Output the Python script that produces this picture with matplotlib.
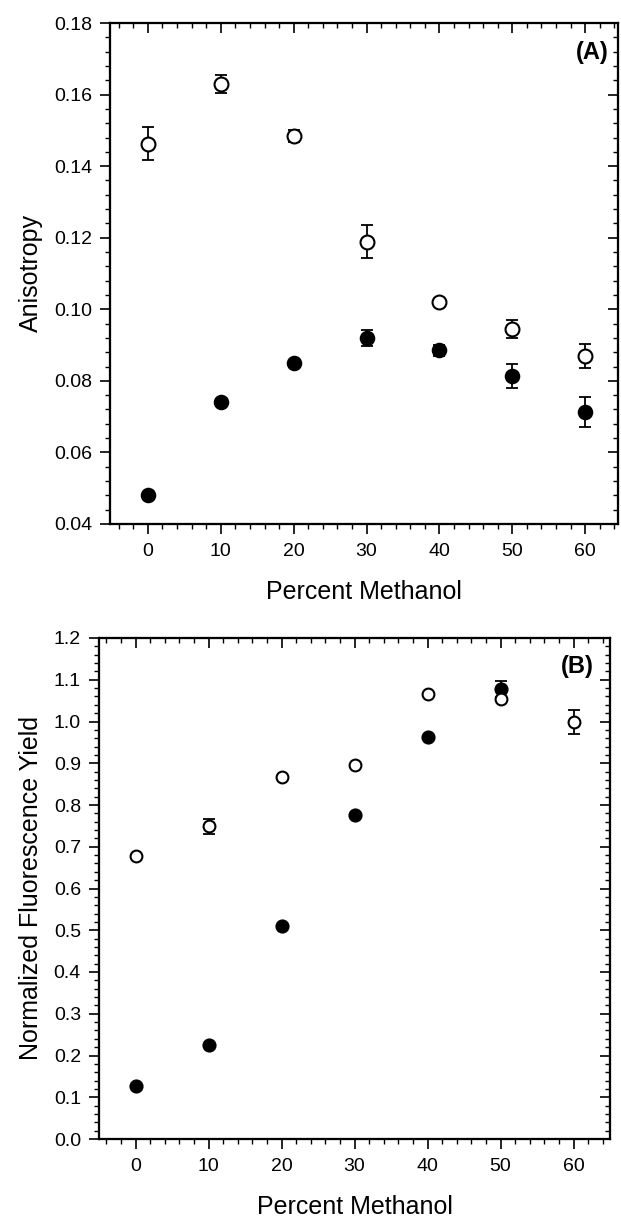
import matplotlib
matplotlib.use("Agg")
import matplotlib.pyplot as plt
from matplotlib.ticker import MultipleLocator, FormatStrFormatter

plt.rcParams['font.family'] = ['Liberation Sans', 'DejaVu Sans']

# ---------------- data ----------------
methanol = [0, 10, 20, 30, 40, 50, 60]

# Panel A: anisotropy
aniso_open = [0.1463, 0.1630, 0.1484, 0.1189, 0.1021, 0.0944, 0.0870]
aniso_open_err = [0.0046, 0.0026, 0.0016, 0.0047, 0.0, 0.0025, 0.0033]
aniso_filled = [0.0480, 0.0742, 0.0850, 0.0920, 0.0885, 0.0814, 0.0713]
aniso_filled_err = [0.0, 0.0, 0.0, 0.0023, 0.0016, 0.0033, 0.0041]

# Panel B: normalized fluorescence yield
yield_open = [0.677, 0.749, 0.866, 0.896, 1.066, 1.054, 0.999]
yield_open_err = [0.0, 0.018, 0.0, 0.0, 0.0, 0.0, 0.029]
yield_filled = [0.128, 0.226, 0.511, 0.776, 0.963, 1.078]
yield_filled_err = [0.0, 0.0, 0.0, 0.0, 0.0, 0.019]
methanol_filled_b = [0, 10, 20, 30, 40, 50]

xlabel = "Percent Methanol"
ylabel_a = "Anisotropy"
ylabel_b = "Normalized Fluorescence Yield"

W, H = 621, 1217
fig = plt.figure(figsize=(W / 100, H / 100), dpi=100)


def frac(l, r, t, b):
    return [l / W, 1 - b / H, (r - l) / W, (b - t) / H]


def style(ax, xlim, ylim, ymaj, ymin, yfmt):
    ax.set_xlim(*xlim)
    ax.set_ylim(*ylim)
    ax.xaxis.set_major_locator(MultipleLocator(10))
    ax.xaxis.set_minor_locator(MultipleLocator(2))
    ax.yaxis.set_major_locator(MultipleLocator(ymaj))
    ax.yaxis.set_minor_locator(MultipleLocator(ymin))
    ax.yaxis.set_major_formatter(FormatStrFormatter(yfmt))
    for s in ax.spines.values():
        s.set_linewidth(1.5)
    ax.tick_params(which='major', direction='out', length=7, width=1.2,
                   labelsize=14, pad=6)
    ax.tick_params(which='minor', direction='out', length=3.5, width=1.0)
    ax.tick_params(axis='x', which='major', pad=7)
    # mirrored inward ticks on top and right
    tx = ax.twiny()
    tx.set_xlim(*xlim)
    tx.xaxis.set_major_locator(MultipleLocator(10))
    tx.xaxis.set_minor_locator(MultipleLocator(2))
    tx.tick_params(which='major', direction='in', length=7, width=1.2, labeltop=False)
    tx.tick_params(which='minor', direction='in', length=3.5, width=1.0)
    ty = ax.twinx()
    ty.set_ylim(*ylim)
    ty.yaxis.set_major_locator(MultipleLocator(ymaj))
    ty.yaxis.set_minor_locator(MultipleLocator(ymin))
    ty.tick_params(which='major', direction='in', length=7, width=1.2, labelright=False)
    ty.tick_params(which='minor', direction='in', length=3.5, width=1.0)
    for a in (tx, ty):
        for s in a.spines.values():
            s.set_linewidth(1.5)


def draw(ax, x, y, err, filled, ms):
    ax.errorbar(x, y, yerr=err, fmt='none', ecolor='black', elinewidth=1.3,
                capsize=4, capthick=1.3, zorder=3)
    if filled:
        ax.plot(x, y, 'o', ms=ms, mfc='black', mec='black', mew=1.2, zorder=4)
    else:
        ax.plot(x, y, 'o', ms=ms, mfc='white', mec='black', mew=1.5, zorder=5)


# ---------------- Panel A ----------------
axA = fig.add_axes(frac(110, 618, 23, 524))
draw(axA, methanol, aniso_filled, aniso_filled_err, True, 10)
draw(axA, methanol, aniso_open, aniso_open_err, False, 10)
style(axA, (-5.2, 64.5), (0.04, 0.18), 0.02, 0.004, '%.2f')
axA.set_xlabel(xlabel, fontsize=18, labelpad=14)
axA.set_ylabel(ylabel_a, fontsize=18, labelpad=8)
axA.text(0.950, 0.941, "(A)", transform=axA.transAxes, fontsize=17,
         fontweight='bold', ha='center', va='center', zorder=10)

# ---------------- Panel B ----------------
axB = fig.add_axes(frac(99, 610, 638, 1139))
draw(axB, methanol_filled_b, yield_filled, yield_filled_err, True, 9)
draw(axB, methanol, yield_open, yield_open_err, False, 8.5)
style(axB, (-5, 65), (0.0, 1.2), 0.1, 0.02, '%.1f')
axB.set_xlabel(xlabel, fontsize=18, labelpad=14)
axB.set_ylabel(ylabel_b, fontsize=18, labelpad=8)
axB.text(0.937, 0.944, "(B)", transform=axB.transAxes, fontsize=17,
         fontweight='bold', ha='center', va='center', zorder=10)

fig.savefig("out.png", dpi=100)
